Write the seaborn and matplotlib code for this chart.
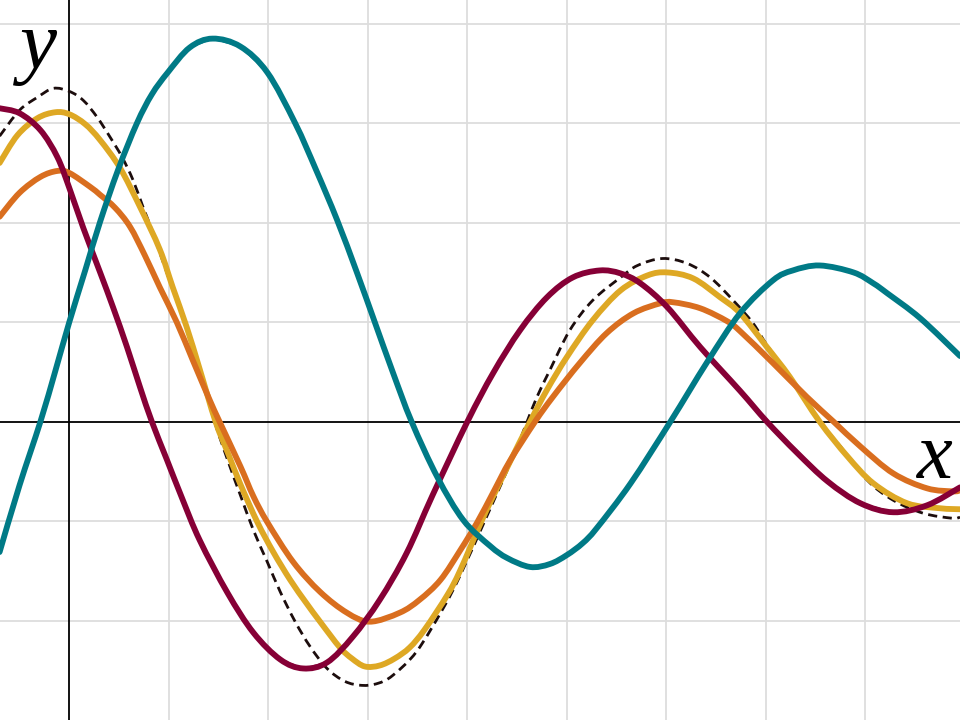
import matplotlib
matplotlib.use("Agg")
import matplotlib.pyplot as plt
from matplotlib.path import Path
from matplotlib.patches import PathPatch
import seaborn as sns
import pandas as pd

# ---- data (grid units) ----
exact_x = [-0.70, -0.50, -0.32, -0.16, 0.00, 0.14, 0.28, 0.41, 0.53, 0.64, 0.74, 0.84, 0.99, 1.15,
           1.31, 1.46, 1.60, 1.72, 1.85, 1.99, 2.12, 2.27, 2.42, 2.59, 2.77, 2.94, 3.10, 3.25, 3.49,
           3.76, 3.93, 4.20, 4.46, 4.60, 4.70, 4.83, 5.03, 5.26, 5.54, 5.71, 5.96, 6.21, 6.44, 6.67,
           6.87, 7.01, 7.24, 7.41, 7.54, 7.75, 8.02, 8.28, 8.58, 8.87, 8.95]
exact_y = [2.87, 3.13, 3.26, 3.35, 3.32, 3.23, 3.06, 2.86, 2.66, 2.43, 2.16, 1.90, 1.47, 1.04,
           0.52, 0.00, -0.41, -0.74, -1.09, -1.41, -1.71, -2.01, -2.26, -2.48, -2.61, -2.65, -2.63,
           -2.55, -2.31, -1.87, -1.54, -0.94, -0.35, 0.00, 0.25, 0.52, 0.92, 1.22, 1.45, 1.57, 1.64,
           1.59, 1.45, 1.22, 0.99, 0.77, 0.45, 0.22, 0.00, -0.25, -0.59, -0.79, -0.92, -0.97, -0.96]

gold_x = [-0.70, -0.52, -0.32, -0.14, 0.00, 0.16, 0.31, 0.51, 0.71, 0.91, 1.04, 1.18, 1.31, 1.47,
          1.60, 1.72, 1.89, 2.05, 2.22, 2.38, 2.52, 2.72, 2.84, 2.97, 3.12, 3.27, 3.42, 3.57, 3.80,
          3.93, 4.16, 4.40, 4.63, 4.80, 5.00, 5.26, 5.54, 5.81, 6.01, 6.27, 6.54, 6.74, 7.01, 7.24,
          7.54, 7.82, 8.08, 8.42, 8.75, 8.95]
gold_y = [2.60, 2.88, 3.05, 3.11, 3.09, 2.99, 2.83, 2.55, 2.16, 1.73, 1.35, 0.95, 0.53, 0.00,
          -0.33, -0.63, -1.01, -1.31, -1.59, -1.82, -2.01, -2.27, -2.38, -2.46, -2.45, -2.38, -2.27,
          -2.09, -1.74, -1.49, -0.96, -0.46, 0.00, 0.32, 0.65, 1.02, 1.32, 1.47, 1.50, 1.44, 1.25,
          1.09, 0.75, 0.45, 0.00, -0.35, -0.62, -0.82, -0.87, -0.88]

orange_x = [-0.70, -0.50, -0.29, -0.12, 0.00, 0.21, 0.31, 0.46, 0.61, 0.76, 0.91, 1.08, 1.24, 1.41,
            1.51, 1.72, 1.85, 1.99, 2.25, 2.52, 2.79, 3.02, 3.32, 3.52, 3.73, 3.93, 4.10, 4.26, 4.43,
            4.68, 4.86, 5.13, 5.40, 5.67, 5.94, 6.07, 6.34, 6.61, 6.74, 7.07, 7.41, 7.68, 7.95, 8.28,
            8.62, 8.88, 8.95]
orange_y = [2.06, 2.30, 2.46, 2.52, 2.50, 2.36, 2.28, 2.15, 1.96, 1.67, 1.35, 1.00, 0.62, 0.22,
            0.00, -0.45, -0.75, -1.01, -1.41, -1.71, -1.92, -2.01, -1.92, -1.79, -1.59, -1.29, -1.01,
            -0.71, -0.39, 0.00, 0.25, 0.59, 0.89, 1.09, 1.19, 1.20, 1.14, 1.01, 0.91, 0.59, 0.25, 0.00,
            -0.25, -0.52, -0.67, -0.70, -0.69]

maroon_x = [-0.70, -0.50, -0.29, -0.12, 0.00, 0.14, 0.31, 0.44, 0.58, 0.71, 0.83, 0.98, 1.13, 1.31,
            1.59, 1.85, 2.12, 2.35, 2.59, 2.85, 3.12, 3.39, 3.65, 4.00, 4.26, 4.53, 4.80, 5.06, 5.33,
            5.54, 5.74, 6.01, 6.34, 6.74, 7.01, 7.31, 7.62, 7.95, 8.28, 8.62, 8.95]
maroon_y = [3.15, 3.10, 2.93, 2.66, 2.35, 1.95, 1.50, 1.15, 0.75, 0.35, 0.00, -0.38, -0.76, -1.19,
            -1.72, -2.12, -2.39, -2.48, -2.42, -2.16, -1.79, -1.32, -0.74, 0.00, 0.49, 0.92, 1.25, 1.45,
            1.52, 1.49, 1.39, 1.15, 0.75, 0.31, 0.00, -0.31, -0.60, -0.82, -0.91, -0.84, -0.66]

teal_x = [-0.70, -0.50, -0.29, -0.14, 0.00, 0.16, 0.31, 0.49, 0.68, 0.83, 0.99, 1.21, 1.44, 1.72,
          1.99, 2.27, 2.48, 2.69, 2.89, 3.07, 3.25, 3.44, 3.70, 3.96, 4.23, 4.40, 4.63, 4.83, 5.00,
          5.16, 5.30, 5.64, 6.04, 6.41, 6.74, 7.07, 7.27, 7.54, 7.88, 8.08, 8.22, 8.55, 8.95]
teal_y = [-1.31, -0.64, 0.00, 0.51, 1.00, 1.52, 2.01, 2.53, 3.00, 3.29, 3.51, 3.76, 3.85, 3.77,
          3.51, 3.00, 2.53, 2.03, 1.50, 1.00, 0.50, 0.00, -0.56, -0.99, -1.25, -1.37, -1.46, -1.43,
          -1.34, -1.22, -1.07, -0.62, 0.00, 0.60, 1.09, 1.42, 1.52, 1.57, 1.50, 1.39, 1.29, 1.04, 0.66]

grid_ticks_x = list(range(0, 9))
grid_ticks_y = list(range(-2, 5))


def smooth_path(xs, ys):
    """Cubic Bezier path passing through the read points (Catmull-Rom tangents)."""
    pts = list(zip(xs, ys))
    n = len(pts)
    verts = [pts[0]]
    codes = [Path.MOVETO]
    for i in range(n - 1):
        p0 = pts[i - 1] if i > 0 else pts[i]
        p1 = pts[i]
        p2 = pts[i + 1]
        p3 = pts[i + 2] if i + 2 < n else pts[i + 1]
        c1 = (p1[0] + (p2[0] - p0[0]) / 6.0, p1[1] + (p2[1] - p0[1]) / 6.0)
        c2 = (p2[0] - (p3[0] - p1[0]) / 6.0, p2[1] - (p3[1] - p1[1]) / 6.0)
        verts += [c1, c2, p2]
        codes += [Path.CURVE4] * 3
    return Path(verts, codes)


# ---- figure ----
sns.set_theme(style="white")
fig = plt.figure(figsize=(9.6, 7.2), dpi=100)
ax = fig.add_axes([0, 0, 1, 1])
ax.set_xlim(-0.696, 8.95)
ax.set_ylim(-2.998, 4.238)
for s in ax.spines.values():
    s.set_visible(False)
ax.set_xticks([])
ax.set_yticks([])

gcol = "#dddddd"
for gx in grid_ticks_x:
    if gx != 0:
        ax.axvline(gx, color=gcol, lw=1.3, zorder=0)
for gy in grid_ticks_y:
    if gy != 0:
        ax.axhline(gy, color=gcol, lw=1.3, zorder=0)
ax.axhline(0, color="black", lw=1.3, zorder=1)
ax.axvline(0, color="black", lw=1.3, zorder=1)

LW = 4.2
series = [
    ("exact", exact_x, exact_y, "#1c0d0d", 2.0, (0, (3.3, 2.0)), 2),
    ("gold", gold_x, gold_y, "#dea824", LW, "-", 3),
    ("orange", orange_x, orange_y, "#d96e1f", LW, "-", 4),
    ("maroon", maroon_x, maroon_y, "#860036", LW, "-", 5),
    ("teal", teal_x, teal_y, "#007a86", LW, "-", 6),
]
for name, xs, ys, col, lw, ls, z in series:
    df = pd.DataFrame({"x": xs, "y": ys})
    if ls == "-":
        # the read points, joined by seaborn (thin core line)
        sns.lineplot(data=df, x="x", y="y", ax=ax, color=col, linewidth=1.2,
                     sort=False, estimator=None, zorder=z)
        # smooth stroke through the same points
        ax.add_patch(PathPatch(smooth_path(xs, ys), facecolor="none", edgecolor=col,
                               linewidth=lw, zorder=z, capstyle="round", joinstyle="round"))
    else:
        ax.add_patch(PathPatch(smooth_path(xs, ys), facecolor="none", edgecolor=col,
                               linewidth=lw, linestyle=ls, zorder=z))

ax.set_xlabel("")
ax.set_ylabel("")
ax.text(-0.31, 3.55, "y", fontsize=60, fontstyle="italic", family="Liberation Serif",
        color="black", ha="center", va="baseline", zorder=10)
ax.text(8.70, -0.57, "x", fontsize=58, fontstyle="italic", family="Liberation Serif",
        color="black", ha="center", va="baseline", zorder=10)

fig.savefig("out.png", dpi=100)
